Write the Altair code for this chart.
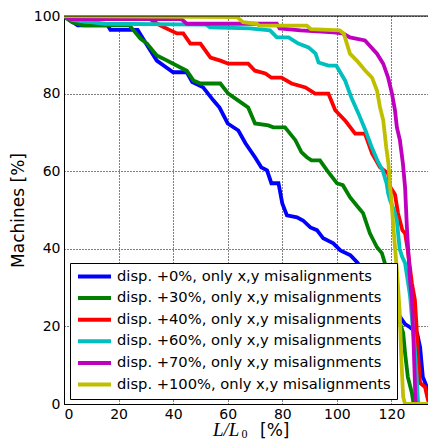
import altair as alt
import pandas as pd

labels = [
    "disp. +0%, only x,y misalignments",
    "disp. +30%, only x,y misalignments",
    "disp. +40%, only x,y misalignments",
    "disp. +60%, only x,y misalignments",
    "disp. +70%, only x,y misalignments",
    "disp. +100%, only x,y misalignments",
]
colors = ["#0000ff", "#008000", "#ff0000", "#00bfbf", "#bf00bf", "#bfbf00"]

x_ticks = [0, 20, 40, 60, 80, 100, 120]
y_ticks = [0, 20, 40, 60, 80, 100]

blue_x = [0, 2, 5, 16, 17, 27, 30, 34, 37, 40, 45, 47, 51, 54.8, 57, 60, 63.9, 66.5, 70, 72.3,
          74.4, 76, 78.6, 80, 81.7, 85.4, 87.6, 90.3, 92.7, 95, 98.7, 101.3, 105, 107.5, 110,
          114, 118, 122.4, 125, 126.8, 129.4, 130.5, 131.5, 133.4, 134.8, 136]
blue_y = [100, 99, 97.6, 97.6, 96.4, 96.4, 93, 88.5, 87, 85.5, 85.5, 83, 81.6, 78.2, 76.4, 72.3,
          70.5, 67.2, 63.6, 61, 60.2, 56.9, 56.9, 51.7, 48.6, 48.1, 47.3, 45.5, 44.8, 42.7, 41.4,
          39.6, 38.3, 36.5, 34, 30, 27, 23.2, 20.6, 19.8, 18.3, 14.7, 7, 3.6, 1, 0]

green_x = [0, 0.5, 3, 7, 24, 25.5, 28, 30.4, 34, 36.4, 40, 45, 47.4, 50, 57.3, 60.2, 63.9, 67.5,
           70, 74.9, 76.7, 81, 84.8, 87, 89, 90.7, 93.8, 96.4, 100, 102.2, 104.8, 107.8, 109.6,
           112.1, 114.7, 116.5, 117.6, 120, 122.4, 124.3, 125, 126, 127.5, 128, 128.5]
green_y = [100, 99.6, 98.4, 97.6, 97.6, 96.3, 94.2, 92.9, 89.8, 89, 87.7, 85.9, 83.4, 82.6, 82.6,
           80, 78.2, 76.4, 72.3, 71.8, 71.3, 71.3, 68, 64.9, 63.6, 62.8, 62.8, 60.2, 56.9, 56.4,
           53.3, 50.7, 49.2, 44, 40.4, 38.9, 36.3, 28, 22.4, 18.3, 13.1, 7, 2.8, 0.5, 0]

red_x = [0, 30, 32, 35.2, 39, 41.4, 43.7, 46.3, 50, 53.7, 57.3, 60.2, 67.5, 70, 73.8, 76, 79.7,
         83.4, 88.5, 92, 96.9, 99.4, 103, 106.7, 110.3, 112.9, 115.8, 118.8, 119.5, 121.3, 122.4,
         124, 125, 126, 127.5, 128.6, 129.2, 129.6, 130.5, 132.3, 133.4, 134]
red_y = [100, 100, 99, 97.6, 96.3, 95.5, 95.5, 92.9, 92.9, 89.3, 88.5, 87.7, 87.7, 85.9, 85.2,
         84.1, 84.1, 82.6, 81.6, 80, 80, 75.7, 73.1, 69.7, 69.7, 64.6, 61, 59.4, 56, 54, 49.2,
         44.8, 44, 39.6, 31.1, 26.8, 20, 14, 5.4, 4.4, 1, 0]

cyan_x = [0, 3, 15, 52, 53.5, 68, 75.5, 78, 82.3, 85.9, 89.6, 92.2, 93.3, 96.9, 99.8, 103, 105.3,
          107.9, 110.5, 112.6, 115, 116.8, 118.2, 118.8, 119.5, 121.3, 122, 123, 123.9, 125,
          126.8, 128, 128.6, 129.4, 129.7, 130]
cyan_y = [100, 99, 98, 97.8, 97.1, 96.8, 96.3, 94.5, 94.5, 92.9, 91.9, 90.3, 88, 87.2, 87.2,
          83.4, 79, 74.9, 70.5, 66.5, 62.5, 60.2, 56.9, 54.3, 52.5, 49.2, 47.3, 40, 38, 36.3,
          28, 18.3, 13.9, 5.4, 1, 0]

purple_x = [0, 2.4, 43, 45, 78, 79, 86.7, 98.7, 102.2, 104.8, 110.3, 114.7, 117, 118.8, 120.2,
            121.3, 122, 123.1, 124.2, 125, 125.7, 126.8, 127.5, 128, 128.6, 128.8, 129]
purple_y = [100, 99.2, 99.2, 98, 98, 96.8, 96.3, 95.8, 95.5, 94.5, 93.7, 90.3, 87.7, 84.1, 80,
            75.7, 71.3, 68, 62, 55.8, 45, 32, 26.8, 18.3, 5.4, 1, 0]

yellow_x = [0, 63.4, 65.6, 70.7, 71.5, 89, 90.5, 101, 102.5, 104.8, 107.3, 110.3, 112.9, 114.7,
            115.8, 117, 118.1, 118.9, 119.5, 120, 120.6, 121.3, 122, 123, 123.6, 124.3, 125, 137]
yellow_y = [100, 99.7, 98.4, 98, 97.5, 97.5, 96.6, 96.3, 95.5, 90.3, 88.5, 86, 84.1, 80.8, 76.5,
            73.1, 66.1, 62, 56, 52.5, 46.6, 40.4, 34.5, 24, 12, 1.8, 0, 0]

series_x = [blue_x, green_x, red_x, cyan_x, purple_x, yellow_x]
series_y = [blue_y, green_y, red_y, cyan_y, purple_y, yellow_y]

rows = []
for lab, xs, ys in zip(labels, series_x, series_y):
    for i, (a, b) in enumerate(zip(xs, ys)):
        rows.append({"series": lab, "x": a, "y": b, "i": i})
df = pd.DataFrame(rows)

xscale = alt.Scale(domain=[0, 133.4], nice=False, zero=False)
yscale = alt.Scale(domain=[0, 100], nice=False)

lines = alt.Chart(df).mark_line(strokeWidth=3.8, clip=True).encode(
    x=alt.X("x:Q", scale=xscale,
            axis=alt.Axis(values=x_ticks, title=None, labelPadding=3, format="d")),
    y=alt.Y("y:Q", scale=yscale,
            axis=alt.Axis(values=y_ticks, title="Machines [%]", labelPadding=4,
                          titlePadding=6, format="d")),
    color=alt.Color("series:N", sort=labels,
                    scale=alt.Scale(domain=labels, range=colors),
                    legend=alt.Legend(title=None, orient="none", legendX=6, legendY=247,
                                      fillColor="white", strokeColor="black", padding=6,
                                      symbolType="M-1,0H5", symbolStrokeWidth=4,
                                      symbolSize=121, labelFontSize=14.7,
                                      labelFont="DejaVu Sans", labelColor="black",
                                      labelLimit=0, rowPadding=4.6, labelOffset=26,
                                      cornerRadius=0, symbolOpacity=1)),
    order=alt.Order("i:Q"),
)

top_border = alt.Chart(pd.DataFrame({"v": [100]})).mark_rule(
    color="black", strokeWidth=1).encode(y=alt.Y("v:Q", scale=yscale))

one = pd.DataFrame({"a": [0]})
t1 = alt.Chart(one).mark_text(text="L/L", font="Liberation Serif", fontStyle="italic",
                              fontSize=19, align="left", baseline="alphabetic",
                              color="black").encode(x=alt.value(149), y=alt.value(420))
t2 = alt.Chart(one).mark_text(text="0", font="Liberation Serif", fontSize=12,
                              align="left", baseline="alphabetic",
                              color="black").encode(x=alt.value(177.5), y=alt.value(421.5))
t3 = alt.Chart(one).mark_text(text="[%]", font="DejaVu Sans", fontSize=17,
                              align="left", baseline="alphabetic",
                              color="black").encode(x=alt.value(196), y=alt.value(420))

chart = alt.layer(lines, top_border, t1, t2, t3).properties(
    width=364, height=388,
    autosize=alt.AutoSizeParams(type="none"),
    padding={"left": 56, "top": 8, "right": 0, "bottom": 36},
).configure_view(strokeWidth=0).configure_axis(
    grid=True, gridColor="black", gridDash=[1, 2], gridOpacity=1, gridWidth=1,
    domainColor="black", domainWidth=1, ticks=False,
    labelFont="DejaVu Sans", labelFontSize=14, labelColor="black",
    titleFont="DejaVu Sans", titleFontSize=17, titleColor="black", titleFontWeight="normal",
)

chart.save("out.html", embed_options={"renderer": "svg", "actions": False})
